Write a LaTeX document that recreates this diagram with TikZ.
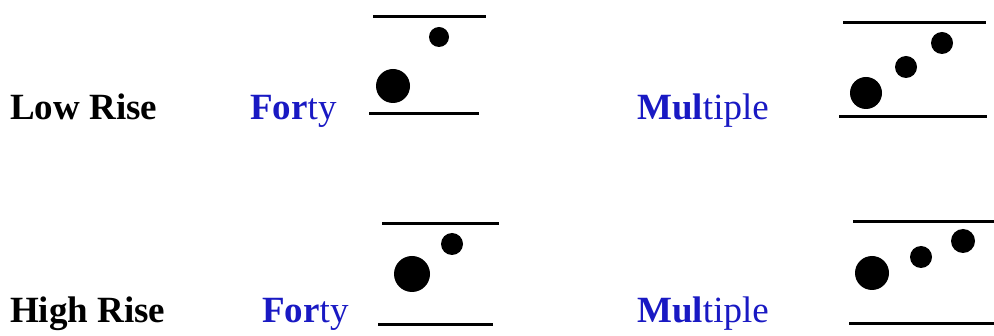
\documentclass[tikz,border=0pt]{standalone}
\usepackage{fontspec}
\setmainfont{Liberation Serif}
\definecolor{wordblue}{RGB}{25,25,195}
\usepackage{tikz}
\usetikzlibrary{positioning}

\begin{document}
\begin{tikzpicture}[
    x=1pt, y=-1pt,
    label/.style={anchor=base west,inner sep=0pt,font=\fontsize{37}{40}\selectfont\bfseries},
    word/.style={anchor=base west,inner sep=0pt,text=wordblue,font=\fontsize{37}{40}\selectfont},
    dot/.style={circle,fill=black,inner sep=0pt,minimum size=#1},
    bar/.style={line width=3pt}]

    \useasboundingbox (0,0) rectangle (994,336);

    % Row 1: Low Rise
    \node[label] (lowrise)  at (10,120) {Low Rise};
    \node[word]  (lowforty) at (250,120) {\textbf{For}ty};
    \node[word]  (lowmulti) at (637,120) {\textbf{Mul}tiple};

    \draw[bar] (373,17) -- (486,17);
    \draw[bar] (369,114) -- (479,114);
    \node[dot=34pt] (lfbig)   at (393,86) {};
    \node[dot=20pt] (lfsmall) at (439,37) {};

    \draw[bar] (843,23) -- (986,23);
    \draw[bar] (839,117) -- (987,117);
    \node[dot=32pt] (lmbig)   at (866,93) {};
    \node[dot=22pt] (lmmid)   at (906,67) {};
    \node[dot=22pt] (lmsmall) at (942,43) {};

    % Row 2: High Rise
    \node[label] (highrise)  at (10,323) {High Rise};
    \node[word]  (highforty) at (262,323) {\textbf{For}ty};
    \node[word]  (highmulti) at (637,323) {\textbf{Mul}tiple};

    \draw[bar] (382,224) -- (499,224);
    \draw[bar] (378,325) -- (493,325);
    \node[dot=36pt] (hfbig)   at (412,274) {};
    \node[dot=22pt] (hfsmall) at (452,244) {};

    \draw[bar] (853,222) -- (994,222);
    \draw[bar] (849,324) -- (994,324);
    \node[dot=34pt] (hmbig)   at (872,273) {};
    \node[dot=22pt] (hmmid)   at (921,257) {};
    \node[dot=24pt] (hmsmall) at (963,241) {};
\end{tikzpicture}
\end{document}
